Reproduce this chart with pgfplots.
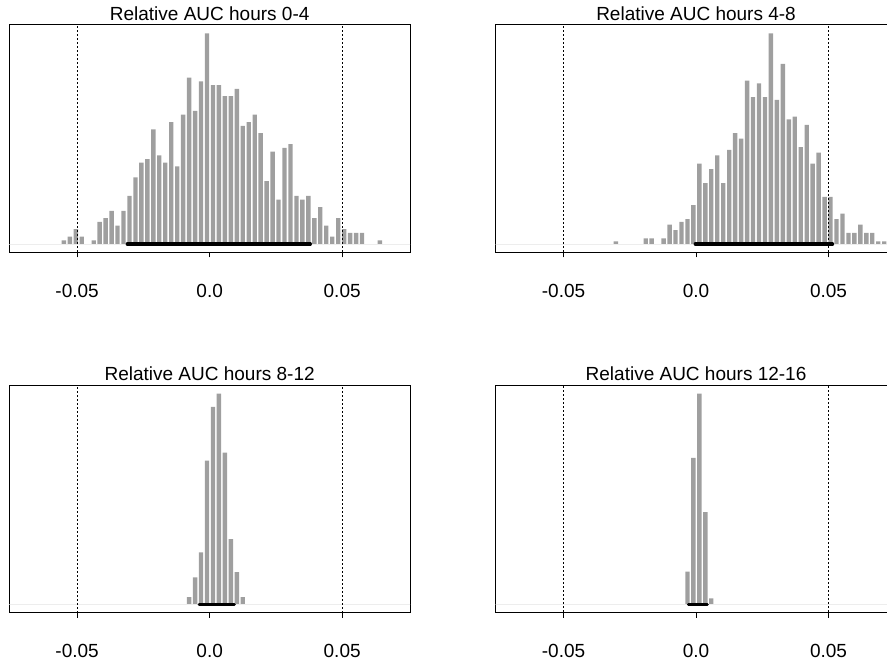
\documentclass[border=0pt]{standalone}
\usepackage{fontspec}
\setmainfont{Liberation Sans}
\usepackage{pgfplots}
\usepackage{pgfplotstable}
\pgfplotsset{compat=1.18}
\definecolor{histgray}{HTML}{9F9F9F}
\definecolor{zeroline}{HTML}{EDEDED}

% bin centre, count
\pgfplotstableread{
x n
-0.05500 1
-0.05275 2
-0.05050 4
-0.04825 2
-0.04375 1
-0.04150 6
-0.03925 7
-0.03700 9
-0.03475 5
-0.03250 9
-0.03025 13
-0.02800 18
-0.02575 22
-0.02350 23
-0.02125 31
-0.01900 24
-0.01675 22
-0.01450 33
-0.01225 21
-0.01000 35
-0.00775 45
-0.00550 36
-0.00325 44
-0.00100 57
0.00125 43
0.00350 43
0.00575 40
0.00800 40
0.01025 42
0.01250 32
0.01475 33
0.01700 35
0.01925 30
0.02150 17
0.02375 25
0.02600 12
0.02825 26
0.03050 27
0.03275 13
0.03500 12
0.03725 13
0.03950 7
0.04175 10
0.04400 5
0.04625 2
0.04850 7
0.05075 4
0.05300 3
0.05525 3
0.05750 3
0.06425 1
}\histA

\pgfplotstableread{
x n
-0.03025 1
-0.01900 2
-0.01675 2
-0.01225 2
-0.01000 7
-0.00775 5
-0.00550 8
-0.00325 9
-0.00100 14
0.00125 29
0.00350 22
0.00575 27
0.00800 32
0.01025 22
0.01250 34
0.01475 40
0.01700 38
0.01925 59
0.02150 53
0.02375 58
0.02600 53
0.02825 76
0.03050 52
0.03275 65
0.03500 45
0.03725 46
0.03950 35
0.04175 43
0.04400 29
0.04625 33
0.04850 17
0.05075 17
0.05300 9
0.05525 11
0.05750 4
0.05975 4
0.06200 7
0.06425 4
0.06650 4
0.06875 1
0.07100 1
}\histB

\pgfplotstableread{
x n
-0.00775 8
-0.00550 30
-0.00325 58
-0.00100 161
0.00125 221
0.00350 236
0.00575 170
0.00800 73
0.01025 36
0.01250 8
}\histC

\pgfplotstableread{
x n
-0.00325 67
-0.00100 300
0.00125 432
0.00350 189
0.00575 12
}\histD

\pgfplotsset{
  panel/.style={scale only axis,width=200.35pt,height=113.75pt,anchor=south west,
    xmin=-0.0756,xmax=0.0756,xtick={-0.05,0,0.05},xticklabels={-0.05,0.0,0.05},
    scaled ticks=false,
    ytick=\empty,xtick pos=left,tick align=outside,major tick length=2.5pt,
    axis line style={black,line width=0.5pt},tick style={black,line width=0.5pt},
    xticklabel style={font=\fontsize{9.5}{11}\selectfont,anchor=base,yshift=-20pt},
    title style={font=\fontsize{9.5}{11}\selectfont,at={(0.5,1)},anchor=base,
      yshift=-3.8pt,inner sep=0pt}},
  hist/.style={ybar,bar width=0.00165,bar shift=0pt,fill=histgray,draw=none},
  vref/.style={black,line width=0.5pt,dash pattern=on 1pt off 1pt},
  cint/.style={black,line width=1.65pt,line cap=round}
}

\begin{document}
\begin{tikzpicture}
\begin{axis}[panel,at={(4.65pt,204.75pt)},ymin=-2.28,ymax=59.28,
  title={Relative AUC hours 0-4}]
\addplot[hist] table[x=x,y=n] {\histA};
\addplot[zeroline,line width=0.5pt] coordinates {(-0.08,0)(0.08,0)};
\addplot[vref] coordinates {(-0.05,-1000)(-0.05,1000)};
\addplot[vref] coordinates {(0.05,-1000)(0.05,1000)};
\addplot[cint] coordinates {(-0.0311,0)(0.0380,0)};
\end{axis}

\begin{axis}[panel,at={(247.85pt,204.75pt)},ymin=-3.04,ymax=79.04,
  title={Relative AUC hours 4-8}]
\addplot[hist] table[x=x,y=n] {\histB};
\addplot[zeroline,line width=0.5pt] coordinates {(-0.08,0)(0.08,0)};
\addplot[vref] coordinates {(-0.05,-1000)(-0.05,1000)};
\addplot[vref] coordinates {(0.05,-1000)(0.05,1000)};
\addplot[cint] coordinates {(-0.0003,0)(0.0515,0)};
\end{axis}

\begin{axis}[panel,at={(4.65pt,24.65pt)},ymin=-9.44,ymax=245.44,
  title={Relative AUC hours 8-12}]
\addplot[hist] table[x=x,y=n] {\histC};
\addplot[zeroline,line width=0.5pt] coordinates {(-0.08,0)(0.08,0)};
\addplot[vref] coordinates {(-0.05,-1000)(-0.05,1000)};
\addplot[vref] coordinates {(0.05,-1000)(0.05,1000)};
\addplot[cint,line width=1.5pt] coordinates {(-0.0040,0)(0.0093,0)};
\end{axis}

\begin{axis}[panel,at={(247.85pt,24.65pt)},ymin=-17.28,ymax=449.28,
  title={Relative AUC hours 12-16}]
\addplot[hist] table[x=x,y=n] {\histD};
\addplot[zeroline,line width=0.5pt] coordinates {(-0.08,0)(0.08,0)};
\addplot[vref] coordinates {(-0.05,-1000)(-0.05,1000)};
\addplot[vref] coordinates {(0.05,-1000)(0.05,1000)};
\addplot[cint,line width=1.5pt] coordinates {(-0.0029,0)(0.0043,0)};
\end{axis}
\pgfresetboundingbox
\path (0,0) rectangle (443.5pt,331pt);
\end{tikzpicture}
\end{document}
